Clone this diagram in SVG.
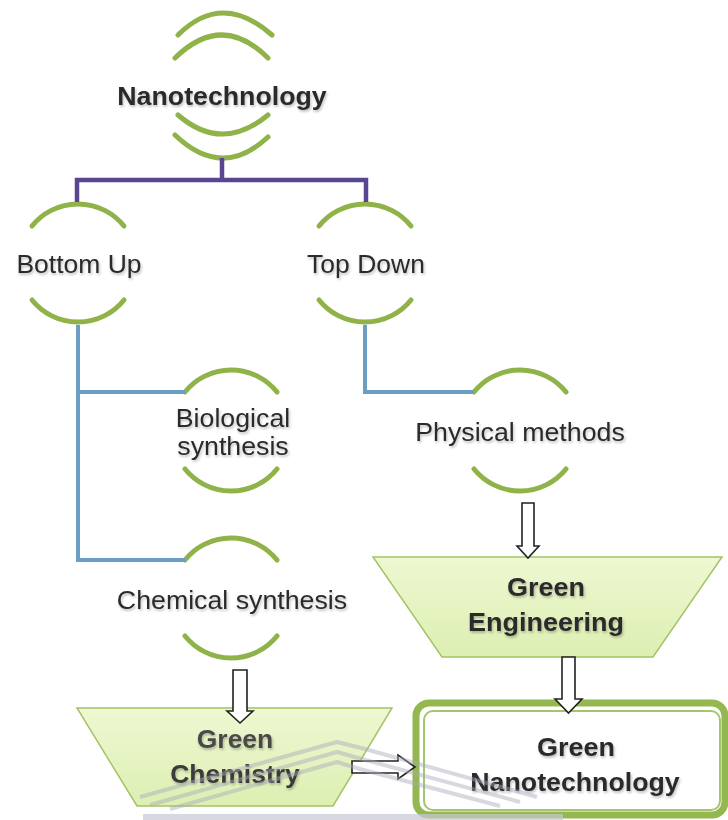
<svg xmlns="http://www.w3.org/2000/svg" width="728" height="820" viewBox="0 0 728 820">
<defs>
<filter id="sh" x="-10%" y="-30%" width="120%" height="160%">
<feDropShadow dx="1" dy="2" stdDeviation="1.3" flood-color="#000" flood-opacity="0.25"/>
</filter>
<linearGradient id="trap" x1="0" y1="0" x2="0" y2="1">
<stop offset="0" stop-color="#eef8d2"/>
<stop offset="1" stop-color="#ddefb2"/>
</linearGradient>
</defs>
<style>
.arc{fill:none;stroke:#8fb348;stroke-width:5;stroke-linecap:round}
.lbl{font-family:"Liberation Sans",Arial,sans-serif;font-size:25px;fill:#2a2a2a;text-anchor:middle;filter:url(#sh)}
.b{font-weight:bold}
.pur{fill:none;stroke:#5a4690;stroke-width:4.5}
.blu{fill:none;stroke:#6c9dc3;stroke-width:4}
.arr{fill:#fff;stroke:#222;stroke-width:1.6;stroke-linejoin:miter}
.trap{fill:url(#trap);stroke:#a3c466;stroke-width:1.5}
.wm{fill:none;stroke:#a8a8ba;stroke-width:4;stroke-opacity:0.45;stroke-linejoin:round}
</style>
<rect width="728" height="820" fill="#fff"/>

<g id="nanotechnology">
<path class="arc" d="M178 35 Q222 -9 272 35"/>
<path class="arc" d="M175 58 Q222 12 268 58"/>
<text class="lbl b" transform="translate(222 105) scale(1.07 1)">Nanotechnology</text>
<path class="arc" d="M178 115 Q222 153 268 115"/>
<path class="arc" d="M175 135 Q222 180 268 137"/>
</g>

<g id="bottom-up">
<path class="arc" d="M32 226 A59 59 0 0 1 124 226"/>
<text class="lbl" transform="translate(79 273) scale(1.06 1)">Bottom Up</text>
<path class="arc" d="M32 300 A59 59 0 0 0 124 300"/>
</g>

<g id="top-down">
<path class="arc" d="M319 226 A59 59 0 0 1 411 226"/>
<text class="lbl" transform="translate(366 273) scale(1.06 1)">Top Down</text>
<path class="arc" d="M319 300 A59 59 0 0 0 411 300"/>
</g>

<g id="biological-synthesis">
<path class="arc" d="M185 392 A59 59 0 0 1 277 392"/>
<text class="lbl" transform="translate(233 427) scale(1.07 1)">Biological</text>
<text class="lbl" transform="translate(233 455) scale(1.07 1)">synthesis</text>
<path class="arc" d="M185 469 A59 59 0 0 0 277 469"/>
</g>

<g id="physical-methods">
<path class="arc" d="M474 392 A59 59 0 0 1 566 392"/>
<text class="lbl" transform="translate(520 441) scale(1.07 1)">Physical methods</text>
<path class="arc" d="M474 469 A59 59 0 0 0 566 469"/>
</g>

<g id="chemical-synthesis">
<path class="arc" d="M185 560 A59 59 0 0 1 277 560"/>
<text class="lbl" transform="translate(232 609) scale(1.07 1)">Chemical synthesis</text>
<path class="arc" d="M185 636 A59 59 0 0 0 277 636"/>
</g>

<g id="green-engineering">
<polygon class="trap" points="373,557 722,557 653,657 442,657"/>
<text class="lbl b" transform="translate(546 596) scale(1.08 1)">Green</text>
<text class="lbl b" transform="translate(546 631) scale(1.08 1)">Engineering</text>
</g>

<g id="green-chemistry">
<polygon class="trap" points="77,708 392,708 333,806 137,806"/>
<text class="lbl b" transform="translate(235 748) scale(1.06 1)" style="fill:#4a4a4a">Green</text>
<text class="lbl b" transform="translate(235 783) scale(1.06 1)" style="fill:#3a3a3a">Chemistry</text>
</g>

<g id="green-nanotechnology">
<rect x="416" y="703" width="309" height="112" rx="13" fill="#fff" stroke="#93b84f" stroke-width="7"/>
<rect x="424" y="711" width="296" height="99" rx="9" fill="#fff" stroke="#a4c56c" stroke-width="2"/>
<text class="lbl b" transform="translate(576 756) scale(1.08 1)">Green</text>
<text class="lbl b" transform="translate(575 791) scale(1.07 1)">Nanotechnology</text>
</g>

<g id="connectors">
<path class="pur" d="M222 158 V180 M77 202 V180 H366 V202"/>
<path class="blu" d="M78 325 V560 H185 M78 392 H185"/>
<path class="blu" d="M365 325 V392 H474"/>
<path class="arr" d="M522 503 H534 V546 H539 L528 558 L517 546 H522 Z"/>
<path class="arr" d="M562 657 H575 V699 H582 L568.5 713 L555 699 H562 Z"/>
<path class="arr" d="M233 670 H247 V711 H253 L240 723 L227 711 H233 Z"/>
<path class="arr" d="M352 761 H398 V755 L415 767 L398 779 V773 H352 Z"/>
</g>

<g id="watermark">
<path class="wm" d="M140 797 L337 742 L365 749 L537 797"/>
<path class="wm" d="M150 805 L337 752 L362 759 L520 802"/>
<path class="wm" d="M170 809 L337 762 L360 769 L500 806"/>
<rect x="143" y="814" width="420" height="6" fill="#c8c8d6" fill-opacity="0.7"/>
</g>
</svg>
